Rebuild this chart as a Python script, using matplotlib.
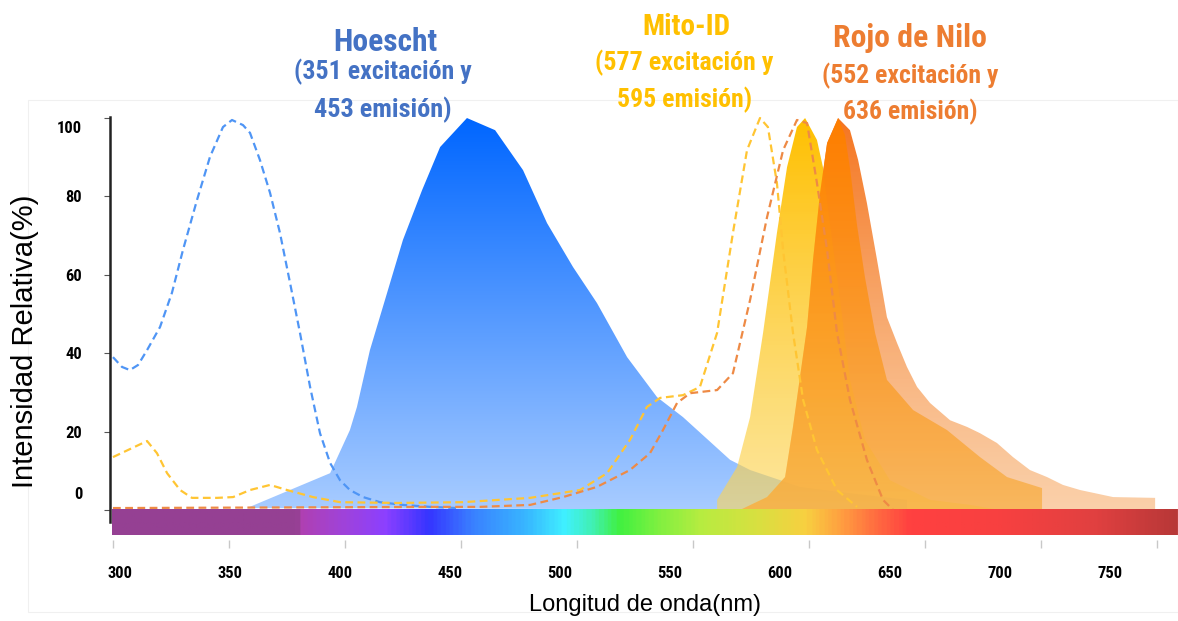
import numpy as np
import matplotlib
matplotlib.use('Agg')
import matplotlib.pyplot as plt
from matplotlib import font_manager
from matplotlib.colors import LinearSegmentedColormap, to_rgba
from matplotlib.patches import Rectangle
from matplotlib.transforms import ScaledTranslation

# narrow bold face for the Arial Narrow look of the original
NARROW = 'Liberation Sans'
for fam in ['Roboto Condensed', 'Fira Sans Condensed', 'Barlow Semi Condensed']:
    try:
        font_manager.findfont(font_manager.FontProperties(family=fam, weight='bold'),
                              fallback_to_default=False)
        NARROW = fam
        break
    except ValueError:
        pass

# --- spectra (wavelength nm, relative intensity %) ---
hoechst_ex_nm = [296.8, 300.9, 304.5, 308.2, 312.3, 318.2, 323.6, 328.6, 335.0, 340.9, 346.8,
                 350.9, 355.9, 359.1, 363.6, 368.2, 372.7, 377.3, 381.8, 386.4, 390.9, 395.5,
                 400.0, 404.5, 410.5, 418.2, 428.6, 440.9, 453.2]
hoechst_ex_val = [39.0, 36.5, 35.7, 37.0, 40.8, 46.7, 55.4, 66.3, 79.1, 90.1, 97.7,
                  99.5, 98.2, 96.2, 89.3, 80.9, 70.7, 57.9, 45.2, 31.4, 19.6, 12.0,
                  7.6, 5.1, 3.3, 2.0, 1.3, 0.8, 0.5]

hoechst_em_nm = [357.7, 395.5, 404.5, 407.7, 413.6, 421.4, 428.6, 437.3, 445.5, 457.7, 470.5,
                 483.2, 494.1, 505.9, 516.8, 530.5, 544.1, 555.9, 577.3, 586.4, 609.1, 631.8,
                 657.7, 657.7]
hoechst_em_val = [0.5, 9.4, 20.4, 26.3, 40.8, 55.4, 68.9, 81.6, 92.6, 100.0, 96.9,
                  86.7, 73.2, 62.0, 52.8, 39.0, 28.8, 23.7, 12.8, 10.2, 5.9, 4.3,
                  2.6, 0.0]

mito_ex_nm = [296.8, 312.3, 316.8, 321.4, 327.3, 332.7, 344.1, 351.4, 359.1, 368.2, 375.9,
              387.7, 400.0, 425.9, 455.9, 486.4, 509.1, 521.4, 531.8, 539.5, 545.5, 555.9,
              563.6, 571.4, 578.6, 585.0, 590.9, 594.5, 598.6, 601.4, 605.9, 610.5, 616.8,
              625.9, 635.0]
mito_ex_val = [13.5, 17.6, 14.5, 9.4, 5.1, 3.1, 3.1, 3.3, 5.1, 6.4, 5.1,
               3.3, 2.0, 1.8, 2.0, 3.1, 5.1, 9.4, 17.9, 26.3, 28.6, 29.3,
               31.4, 45.2, 70.7, 91.8, 100.0, 97.7, 83.4, 66.3, 45.2, 28.1, 15.3,
               5.1, 0.8]

mito_em_nm = [571.4, 571.4, 580.5, 586.4, 592.3, 598.6, 603.2, 607.7, 611.4, 616.8, 619.5,
              622.7, 627.3, 631.8, 638.6, 650.0, 668.2, 686.4, 700.0]
mito_em_val = [0.0, 2.6, 11.0, 23.7, 45.2, 70.7, 87.5, 97.7, 100.0, 94.4, 87.5,
               73.0, 53.6, 33.2, 17.9, 7.6, 2.6, 1.3, 0.0]

nile_ex_nm = [296.8, 445.5, 463.6, 486.4, 501.4, 516.8, 531.8, 540.9, 546.8, 553.2, 559.1,
              571.4, 578.6, 586.4, 594.1, 601.4, 607.7, 612.3, 616.8, 621.4, 625.9, 631.8,
              639.5, 646.8, 651.4]
nile_ex_val = [0.5, 0.8, 0.8, 1.3, 3.3, 5.9, 10.2, 14.5, 20.4, 27.3, 29.8,
               30.6, 34.9, 53.6, 74.7, 91.8, 99.5, 98.7, 83.4, 66.3, 45.2, 28.1,
               12.8, 2.6, 0.0]

nile_em_nm = [581.8, 594.1, 602.3, 605.9, 609.1, 612.3, 615.0, 618.2, 621.4, 626.4, 629.5,
              631.8, 635.0, 638.6, 643.2, 648.6, 660.5, 675.9, 690.9, 703.2, 719.1, 719.1]
nile_em_val = [0.0, 3.3, 8.4, 21.2, 34.0, 46.7, 63.8, 80.9, 93.6, 100.0, 95.7,
               87.2, 72.7, 59.4, 45.2, 33.2, 25.5, 20.4, 13.5, 8.4, 5.6, 0.0]

nile_em2_nm = [581.8, 594.1, 602.3, 605.9, 609.1, 612.3, 615.0, 618.2, 621.4, 626.4, 631.8,
               635.5, 639.5, 644.1, 648.6, 653.2, 657.7, 662.3, 668.2, 677.3, 685.0, 690.9,
               698.6, 705.9, 713.6, 721.4, 728.6, 736.4, 751.4, 770.5, 770.5]
nile_em2_val = [0.0, 3.3, 8.4, 21.2, 34.0, 46.7, 63.8, 80.9, 93.6, 100.0, 96.9,
                89.3, 78.3, 63.8, 49.2, 42.6, 36.5, 31.4, 27.3, 22.9, 21.2, 19.6,
                17.1, 13.5, 10.2, 8.4, 6.4, 5.1, 3.3, 3.1, 0.0]

# visible spectrum strip
spec_nm = [296.5, 380, 381, 400, 420, 440, 460, 485, 502, 515, 527, 545, 565, 590,
           612, 628, 645, 660, 700, 745, 781]
spec_colors = ['#954093', '#954093', '#B040B0', '#A043D8', '#8C40FF', '#3535FF', '#3A80FF',
               '#38B8FF', '#40F0FF', '#40F0B0', '#40F040', '#80F040', '#B8EC40', '#D8E040',
               '#F8D040', '#FFA040', '#FF6A40', '#FF4040', '#F84040', '#E04040', '#B83838']

x_ticks = [300, 350, 400, 450, 500, 550, 600, 650, 700, 750]
x_marks = list(296.8 + 52.73 * np.arange(10))
y_ticks = [0, 20, 40, 60, 80, 100]

# (text, centre x px, centre y px, target width px, colour)
titles = [
    ('Hoescht', 385, 42, 104, '#4472C4'),
    ('(351 excitación y', 383, 72, 177, '#4472C4'),
    ('453 emisión)', 383, 110, 137, '#4472C4'),
    ('Mito-ID', 686, 27, 88, '#FFC000'),
    ('(577 excitación y', 684, 63, 178, '#FFC000'),
    ('595 emisión)', 685, 100, 135, '#FFC000'),
    ('Rojo de Nilo', 910, 38, 154, '#ED7D31'),
    ('(552 excitación y', 910, 76, 176, '#ED7D31'),
    ('636 emisión)', 910, 112, 134, '#ED7D31'),
]

XMIN, XMAX = 295.45, 780.9
YMIN, YMAX = -7.65, 104.6


def gradient_fill(ax, x, y, top, bottom, z):
    poly, = ax.fill(x, y, facecolor='none', edgecolor='none', zorder=z)
    t = np.linspace(0, 1, 256)[:, None]
    top = np.array(top)
    bottom = np.array(bottom)
    cols = bottom + (top - bottom) * t
    im = ax.imshow(cols.reshape(256, 1, 4), extent=[min(x), max(x), 0, 100],
                   origin='lower', aspect='auto', zorder=z, interpolation='bilinear')
    im.set_clip_path(poly)


def rgba(c, a):
    r, g, b, _ = to_rgba(c)
    return (r, g, b, a)


fig = plt.figure(figsize=(11.78, 6.21), dpi=100)
ax = fig.add_axes([110 / 1178, 1 - 540 / 621, 1068 / 1178, 440 / 621])
renderer = fig.canvas.get_renderer()


def fit_size(txt, width, base=20):
    t = fig.text(0, 0, txt, fontsize=base, fontweight='bold', fontfamily=NARROW)
    w = t.get_window_extent(renderer).width
    t.remove()
    return base * width / w


gradient_fill(ax, hoechst_em_nm, hoechst_em_val, rgba('#0066FF', 1), rgba('#A8CCFF', 1), 2)
gradient_fill(ax, nile_em2_nm, nile_em2_val, rgba('#F57520', 1), rgba('#F8B171', 0.6), 3)
gradient_fill(ax, mito_em_nm, mito_em_val, rgba('#FFC000', 1), rgba('#FCD558', 0.6), 4)
gradient_fill(ax, nile_em_nm, nile_em_val, rgba('#FF7F00', 1), rgba('#F8AD3E', 0.7), 5)

dash = (3.5, 2.0)
ax.plot(hoechst_ex_nm, hoechst_ex_val, color='#4F95F5', lw=1.6, dashes=dash, zorder=6)
ax.plot(mito_ex_nm, mito_ex_val, color='#FFC533', lw=1.6, dashes=dash, zorder=6)
ax.plot(nile_ex_nm, nile_ex_val, color='#EE8A45', lw=1.6, dashes=dash, zorder=6)

# spectrum bar under the curves
pos = [(v - spec_nm[0]) / (spec_nm[-1] - spec_nm[0]) for v in spec_nm]
cmap = LinearSegmentedColormap.from_list('spec', list(zip(pos, spec_colors)))
ax.imshow(np.linspace(0, 1, 600)[None, :], cmap=cmap, extent=[spec_nm[0], spec_nm[-1], -6.4, 0],
          aspect='auto', zorder=7)

ax.set_xlim(XMIN, XMAX)
ax.set_ylim(YMIN, YMAX)

for s in ['top', 'right', 'bottom']:
    ax.spines[s].set_visible(False)
ax.spines['left'].set_bounds(-3, 100.3)
ax.spines['left'].set_color('#222222')
ax.spines['left'].set_linewidth(1.8)

tick_size = fit_size('100', 25)
ax.set_yticks(y_ticks)
ax.set_yticklabels([str(v) for v in y_ticks], fontfamily=NARROW, fontweight='bold', fontsize=tick_size)
ax.tick_params(axis='y', length=4, width=0.8, color='#555555', pad=16)
ylabels = ax.get_yticklabels()
ylabels[0].set_transform(ylabels[0].get_transform() + ScaledTranslation(0, 0.17, fig.dpi_scale_trans))
ylabels[-1].set_transform(ylabels[-1].get_transform() + ScaledTranslation(0, -0.09, fig.dpi_scale_trans))

ax.set_xticks(x_ticks)
ax.set_xticklabels([str(v) for v in x_ticks], fontfamily=NARROW, fontweight='bold', fontsize=tick_size)
ax.set_xticks(x_marks, minor=True)
ax.tick_params(axis='x', which='major', length=0, pad=19)
ax.tick_params(axis='x', which='minor', length=6, width=1, color='#C8C8C8')

fig.text(645 / 1178, 1 - 605 / 621, 'Longitud de onda(nm)', ha='center', va='center',
         fontsize=17, fontfamily='Liberation Sans')
fig.text(25 / 1178, 1 - 341 / 621, 'Intensidad Relativa(%)', ha='center', va='center',
         rotation=90, fontsize=21, fontfamily='Liberation Sans')

for txt, px, py, width, col in titles:
    fig.text(px / 1178, 1 - py / 621, txt, ha='center', va='center', fontsize=fit_size(txt, width),
             fontweight='bold', color=col, fontfamily=NARROW)

fig.patches.append(Rectangle((28 / 1178, 1 - 612 / 621), 1150 / 1178, 512 / 621,
                             transform=fig.transFigure, fill=False, ec='#F0F0F0', lw=0.8, zorder=0))

fig.savefig('out.png', dpi=100)
